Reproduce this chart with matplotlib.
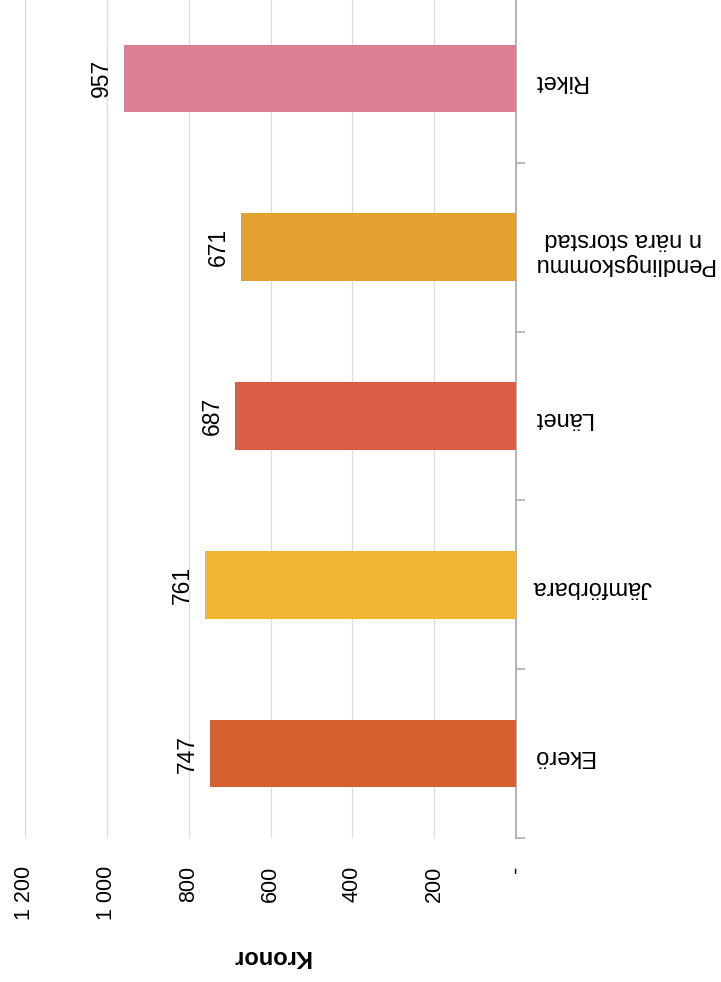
import matplotlib.pyplot as plt
from matplotlib.ticker import FixedLocator

plt.rcParams['font.family'] = ['Liberation Sans', 'DejaVu Sans']

categories = ['Ekerö', 'Jämförbara', 'Länet', 'Pendlingskommu\nn nära storstad', 'Riket']
values = [747, 761, 687, 671, 957]
colors = ['#d4612f', '#f1b733', '#dc5c45', '#e3a22f', '#dc7f93']
ticks = [0, 200, 400, 600, 800, 1000, 1200]
tick_labels = ['-', '200', '400', '600', '800', '1 000', '1 200']

fig = plt.figure(figsize=(7.21, 9.82), dpi=100)
ax = fig.add_axes([25 / 721, 1 - 838 / 982, (516 - 25) / 721, 844 / 982])

pos = list(range(len(categories)))
ax.barh(pos, values, height=0.4, color=colors, zorder=3)

ax.set_xlim(1200, 0)
ax.set_ylim(-0.5, 4.5)

ax.set_xticks(ticks)
ax.set_xticklabels(tick_labels, rotation=90, fontsize=15.5)
ax.tick_params(axis='x', length=0, pad=20)
ax.grid(axis='x', color='#dcdcdc', linewidth=0.9, zorder=0)

ax.yaxis.tick_right()
ax.set_yticks(pos)
ax.set_yticklabels(categories, rotation=180, fontsize=17, multialignment='center')
ax.tick_params(axis='y', which='major', length=0, pad=12)
ax.yaxis.set_minor_locator(FixedLocator([-0.5, 0.5, 1.5, 2.5, 3.5]))
ax.tick_params(axis='y', which='minor', length=6.5, width=1.1, color='#a8a8a8', direction='out')

for s in ['top', 'bottom', 'left']:
    ax.spines[s].set_visible(False)
ax.spines['right'].set_color('#a8a8a8')
ax.spines['right'].set_linewidth(1.2)

for p, v in zip(pos, values):
    ax.annotate(str(v), xy=(v, p), xytext=(-8, 0), textcoords='offset points',
                rotation=90, ha='right', va='center', fontsize=16.5)

ax.set_xlabel('Kronor', rotation=180, fontsize=17, fontweight='bold', labelpad=18)

fig.savefig('out.png', dpi=100)
